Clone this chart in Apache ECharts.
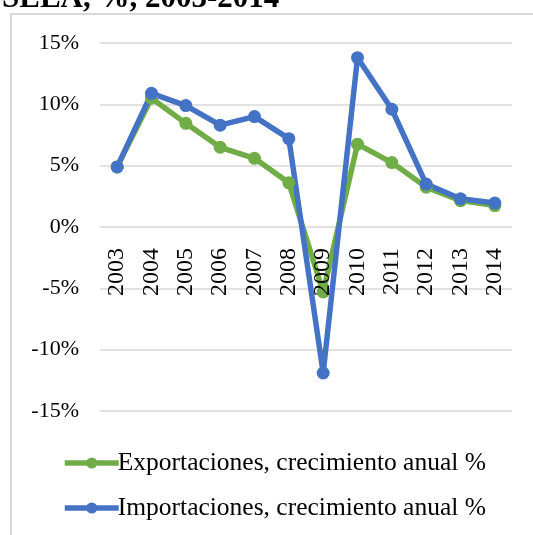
<!DOCTYPE html>
<html>
<head>
<meta charset="utf-8">
<script src="https://cdn.jsdelivr.net/npm/echarts@6/dist/echarts.min.js"></script>
<style>
  html, body { margin: 0; padding: 0; background: #fff; }
  #chart { width: 533px; height: 535px; }
</style>
</head>
<body>
<div id="chart"></div>
<script>
  // datos
  const years = ['2003', '2004', '2005', '2006', '2007', '2008', '2009', '2010', '2011', '2012', '2013', '2014']
  const exportaciones = [4.9, 10.5, 8.45, 6.5, 5.6, 3.6, -5.3, 6.75, 5.25, 3.25, 2.15, 1.75]
  const importaciones = [4.9, 10.9, 9.9, 8.3, 9.0, 7.2, -11.9, 13.8, 9.6, 3.5, 2.3, 1.95]
  const expName = 'Exportaciones, crecimiento anual %'
  const impName = 'Importaciones, crecimiento anual %'

  const serif = '"Liberation Serif", "Times New Roman", serif'

  const chart = echarts.init(document.getElementById('chart'))
  chart.setOption({
    animation: false,
    title: {
      text: 'SELA, %, 2003-2014',
      left: -3,
      top: -22,
      textStyle: { fontFamily: serif, fontWeight: 'bold', fontSize: 31, color: '#000' }
    },
    graphic: [{
      type: 'rect',
      shape: { x: 11, y: 14, width: 600, height: 600 },
      style: { fill: 'none', stroke: '#d9d9d9', lineWidth: 2 },
      silent: true
    }],
    grid: { left: 100, right: 21, top: 43, height: 368 },
    legend: {
      orient: 'vertical',
      left: 57,
      top: 445,
      itemWidth: 54,
      itemHeight: 14,
      itemGap: 19,
      lineStyle: { width: 5.5 },
      textStyle: { fontFamily: serif, fontSize: 25.5, color: '#000', padding: [0, 0, 0, -6] },
      data: [expName, impName]
    },
    xAxis: {
      type: 'category',
      data: years,
      z: 10,
      // las etiquetas van justo debajo de la linea del 0%
      axisLine: { show: false, onZero: false },
      axisTick: { show: false },
      axisLabel: { rotate: 90, margin: -163, fontFamily: serif, fontSize: 24, color: '#000', interval: 0 }
    },
    yAxis: {
      type: 'value',
      min: -15,
      max: 15,
      interval: 5,
      axisLine: { show: false },
      axisLabel: { formatter: '{value}%', margin: 21, fontFamily: serif, fontSize: 22, color: '#000' },
      splitLine: { lineStyle: { color: '#d9d9d9', width: 1.5 } }
    },
    series: [
      {
        name: expName,
        type: 'line',
        data: exportaciones,
        symbol: 'circle',
        symbolSize: 13,
        itemStyle: { color: '#70ad47' },
        lineStyle: { width: 5.5, color: '#70ad47' }
      },
      {
        name: impName,
        type: 'line',
        data: importaciones,
        symbol: 'circle',
        symbolSize: 13,
        itemStyle: { color: '#4472c4' },
        lineStyle: { width: 5.5, color: '#4472c4' }
      }
    ]
  })
</script>
</body>
</html>
